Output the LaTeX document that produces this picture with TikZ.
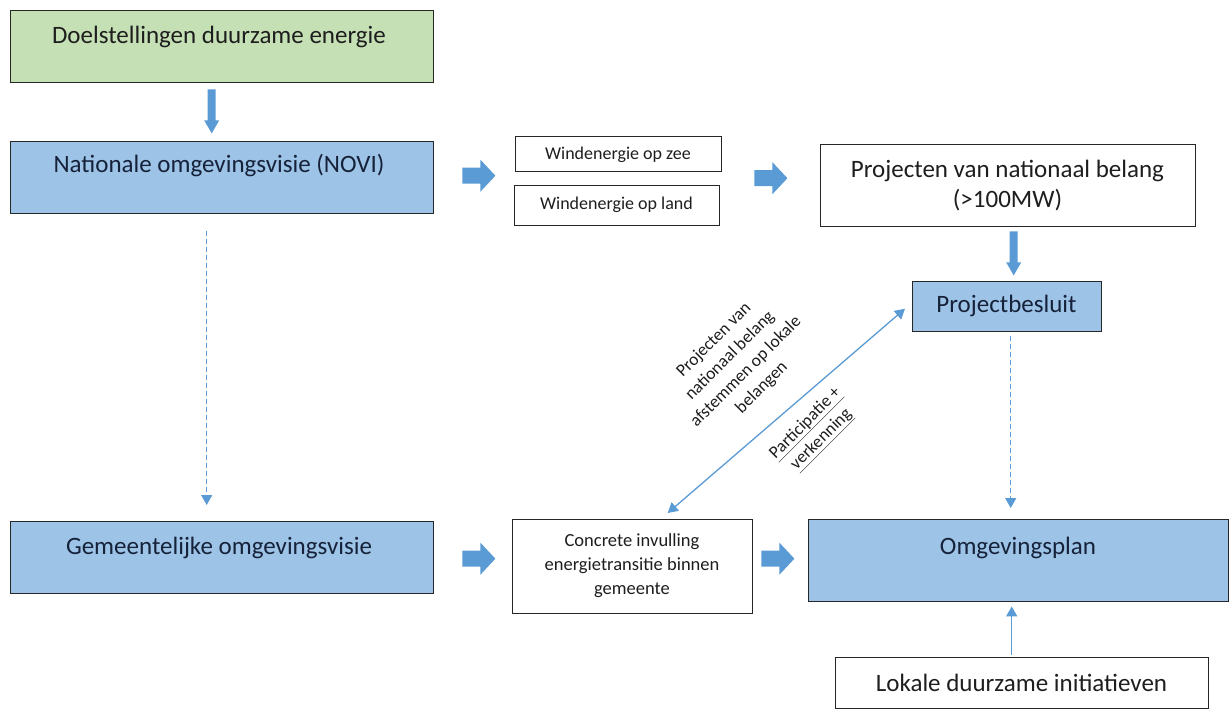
\documentclass[tikz,border=0pt]{standalone}
\usepackage{fontspec}
\setmainfont{Carlito}
\usetikzlibrary{arrows.meta,calc}
\definecolor{boxblue}{HTML}{9DC3E6}
\definecolor{boxgreen}{HTML}{C5E0B4}
\definecolor{arrowblue}{HTML}{5B9BD5}
\definecolor{edgegray}{HTML}{262626}
\definecolor{navytext}{HTML}{16223A}
\definecolor{inktext}{HTML}{1E1E1E}
\begin{document}
\begin{tikzpicture}[x=1pt,y=-1pt,
  box/.style={draw=edgegray, line width=1.4pt, inner sep=0pt, anchor=north west},
  bluebox/.style={box, fill=boxblue},
  greenbox/.style={box, fill=boxgreen},
  whitebox/.style={box, fill=white},
  bigtext/.style={font=\fontsize{25}{30}\selectfont, align=center, inner sep=0pt},
  smalltext/.style={font=\fontsize{18}{23}\selectfont, align=center, inner sep=0pt},
  difftext/.style={font=\fontsize{17.5}{22.5}\selectfont, align=center, inner sep=0pt, text=inktext, rotate=45},
  thinarrow/.style={draw=arrowblue, line width=1.3pt, -{Triangle[length=10pt,width=11pt]}},
  dasharrow/.style={thinarrow, dash pattern=on 5pt off 3pt},
  bothways/.style={draw=arrowblue, line width=1.3pt,
    {Triangle[length=10pt,width=11pt]}-{Triangle[length=10pt,width=11pt]}},
  rblock/.pic={\fill[arrowblue] (0,-8) -- (18,-8) -- (18,-16) -- (33,0) -- (18,16) -- (18,8) -- (0,8) -- cycle;},
  dblock/.pic={\fill[arrowblue] (-4,0) -- (4,0) -- (4,31) -- (7.5,31) -- (0,44) -- (-7.5,31) -- (-4,31) -- cycle;}
]
\useasboundingbox[fill=white] (0,0) rectangle (1230,709);

% boxes
\node[greenbox, minimum width=423pt, minimum height=72pt] (goal) at (10,10) {};
\node[bluebox, minimum width=423pt, minimum height=72pt] (novi) at (10,141) {};
\node[bluebox, minimum width=423pt, minimum height=72pt] (gem) at (10,521) {};
\node[whitebox, minimum width=206pt, minimum height=35pt] (zee) at (515,136) {};
\node[whitebox, minimum width=205pt, minimum height=40pt] (land) at (514,185) {};
\node[whitebox, minimum width=375pt, minimum height=82pt] (pnb) at (820,144) {};
\node[bluebox, minimum width=189pt, minimum height=50pt] (besluit) at (912,281) {};
\node[whitebox, minimum width=240pt, minimum height=94pt] (concrete) at (512,519) {};
\node[bluebox, minimum width=420pt, minimum height=82pt] (plan) at (808,519) {};
\node[whitebox, minimum width=373pt, minimum height=51pt] (lokaal) at (835,657) {};

% box texts
\node[bigtext, text=inktext] (goal-t) at (219,37) {Doelstellingen duurzame energie};
\node[bigtext, text=navytext] (novi-t) at (219,166) {Nationale omgevingsvisie (NOVI)};
\node[bigtext, text=navytext] (gem-t) at (219,548) {Gemeentelijke omgevingsvisie};
\node[smalltext, text=inktext] (zee-t) at (618,155) {Windenergie op zee};
\node[smalltext, text=inktext] (land-t) at (616.5,205) {Windenergie op land};
\node[bigtext, text=inktext] (pnb-t) at (1007.5,186) {Projecten van nationaal belang\\(>100MW)};
\node[bigtext, text=navytext] (besluit-t) at (1006.5,306) {Projectbesluit};
\node[smalltext, text=inktext, font=\fontsize{18.5}{24}\selectfont] (concrete-t) at (632,566) {Concrete invulling\\energietransitie binnen\\gemeente};
\node[bigtext, text=navytext] (plan-t) at (1018,548) {Omgevingsplan};
\node[bigtext, text=inktext] (lokaal-t) at (1021.5,683) {Lokale duurzame initiatieven};

% block arrows
\pic at ($(goal.south)+(-10.5,6)$) {dblock};
\pic at ($(pnb.south)+(5.5,4)$) {dblock};
\pic at ($(novi.east)+(28,-2)$) {rblock};
\pic at ($(zee.east)+(32,24)$) {rblock};
\pic at ($(gem.east)+(28,1)$) {rblock};
\pic at ($(concrete.east)+(8,-8)$) {rblock};

% thin connectors
\draw[dasharrow] ($(novi.south)+(-15.5,17)$) -- ($(gem.north)+(-15.5,-16)$);
\draw[dasharrow] ($(besluit.south)+(3.5,4)$) -- ($(plan.north)+(-8,-11)$);
\draw[thinarrow] ($(lokaal.north)+(-10.5,-2)$) -- ($(plan.south)+(-7,4)$);
\draw[bothways] ($(concrete.north)+(35,-6)$) -- ($(besluit.west)+(-7,2)$);

% labels along the diagonal connector
\node[difftext] (afstem) at (738,364) {Projecten van\\nationaal belang\\afstemmen op lokale\\belangen};
\node[difftext] (particip) at (814,432) {\underline{Participatie +}\\\underline{verkenning}};
\end{tikzpicture}
\end{document}
